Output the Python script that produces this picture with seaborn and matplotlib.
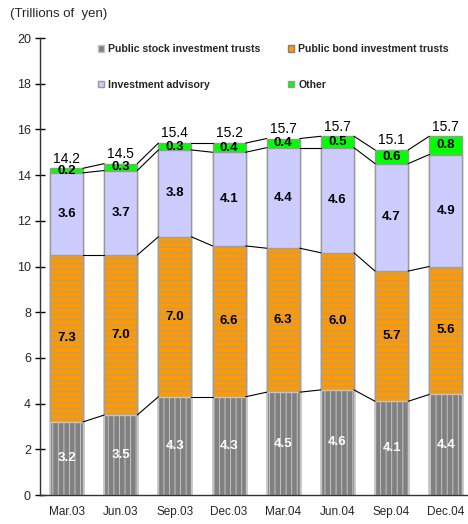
import numpy as np
import pandas as pd
import matplotlib
matplotlib.use("Agg")
import matplotlib.pyplot as plt
from matplotlib.patches import Patch
import seaborn as sns

# values in trillions of yen
periods = ["Mar.03", "Jun.03", "Sep.03", "Dec.03", "Mar.04", "Jun.04", "Sep.04", "Dec.04"]
stock = [3.2, 3.5, 4.3, 4.3, 4.5, 4.6, 4.1, 4.4]
bond = [7.3, 7.0, 7.0, 6.6, 6.3, 6.0, 5.7, 5.6]
advisory = [3.6, 3.7, 3.8, 4.1, 4.4, 4.6, 4.7, 4.9]
other = [0.2, 0.3, 0.3, 0.4, 0.4, 0.5, 0.6, 0.8]
totals = [14.2, 14.5, 15.4, 15.2, 15.7, 15.7, 15.1, 15.7]

names = ["Public stock investment trusts", "Public bond investment trusts",
         "Investment advisory", "Other"]
fills = ["#808080", "#FF9900", "#CCCCFF", "#00FF00"]
edges = ["#C4C4C4", "#A0A0A0", "#999999", "#999999"]
hatches = ["|||", "---", None, None]

df = pd.DataFrame({"period": periods, "stock": stock, "bond": bond,
                   "advisory": advisory, "other": other, "total": totals})
cols = ["stock", "bond", "advisory", "other"]
cum = df[cols].cumsum(axis=1)

sns.set_style("white")
plt.rcParams["font.family"] = ["Liberation Sans", "DejaVu Sans"]
plt.rcParams["hatch.linewidth"] = 0.7

fig = plt.figure(figsize=(4.68, 5.24), dpi=100)
ax = fig.add_axes([40 / 468, 29 / 524, 428 / 468, 457 / 524])

w = 0.61
# draw tallest cumulative first so each lower segment overlays it
for k in range(3, -1, -1):
    sns.barplot(x=df["period"], y=cum[cols[k]], color=fills[k], saturation=1,
                edgecolor=edges[k], linewidth=1.0, hatch=hatches[k],
                width=w, ax=ax, zorder=2)

# connecting lines between bars
x = np.arange(len(periods))
for k in range(4):
    lv = cum[cols[k]].values
    for i in range(len(periods) - 1):
        ax.plot([x[i] + w / 2, x[i + 1] - w / 2], [lv[i], lv[i + 1]],
                color="black", lw=0.8, zorder=3)

# segment labels
for i in range(len(periods)):
    base = 0
    for k, c in enumerate(cols):
        v = df[c].iloc[i]
        ax.text(x[i], base + v / 2, f"{v:.1f}", ha="center", va="center",
                fontsize=9.5, fontweight="bold",
                color="white" if k == 0 else "black", zorder=4)
        base += v
    ax.text(x[i], cum["other"].iloc[i] + 0.12, f"{totals[i]:.1f}", ha="center",
            va="bottom", fontsize=10, color="black", zorder=4)

ax.set_ylim(0, 20)
ax.set_xlim(-0.49, 7.41)
ax.set_yticks(range(0, 21, 2))
ax.set_xlabel("")
ax.set_ylabel("")
ax.set_xticks(x)
ax.set_xticklabels(periods)
ax.set_xticks(x[:-1] + 0.5, minor=True)
ax.tick_params(axis="x", which="major", length=0, labelsize=8.5, pad=8)
ax.tick_params(axis="x", which="minor", direction="inout", length=7, width=1, color="black")
ax.tick_params(axis="y", direction="inout", length=7, width=1, color="black",
               labelsize=9, pad=3, left=True)
for s in ["top", "right"]:
    ax.spines[s].set_visible(False)
for s in ["left", "bottom"]:
    ax.spines[s].set_color("#333333")
    ax.spines[s].set_linewidth(1.0)

handles = [Patch(facecolor=fills[0], edgecolor=edges[0]),
           Patch(facecolor=fills[2], edgecolor=edges[2]),
           Patch(facecolor=fills[1], edgecolor="#808080"),
           Patch(facecolor=fills[3], edgecolor=edges[3])]
labels = [names[0], names[2], names[1], names[3]]
fig.legend(handles, labels, ncol=2, loc="upper left", bbox_to_anchor=(88 / 468, 1 - 35 / 524),
           frameon=False, handlelength=0.6, handleheight=0.6, handletextpad=0.4,
           columnspacing=2.6, labelspacing=2.4, prop={"size": 7.6, "weight": "bold"})

fig.text(10 / 468, 1 - 14 / 524, "(Trillions of  yen)", fontsize=9.5, va="center", ha="left")

fig.savefig("out.png", dpi=100)
